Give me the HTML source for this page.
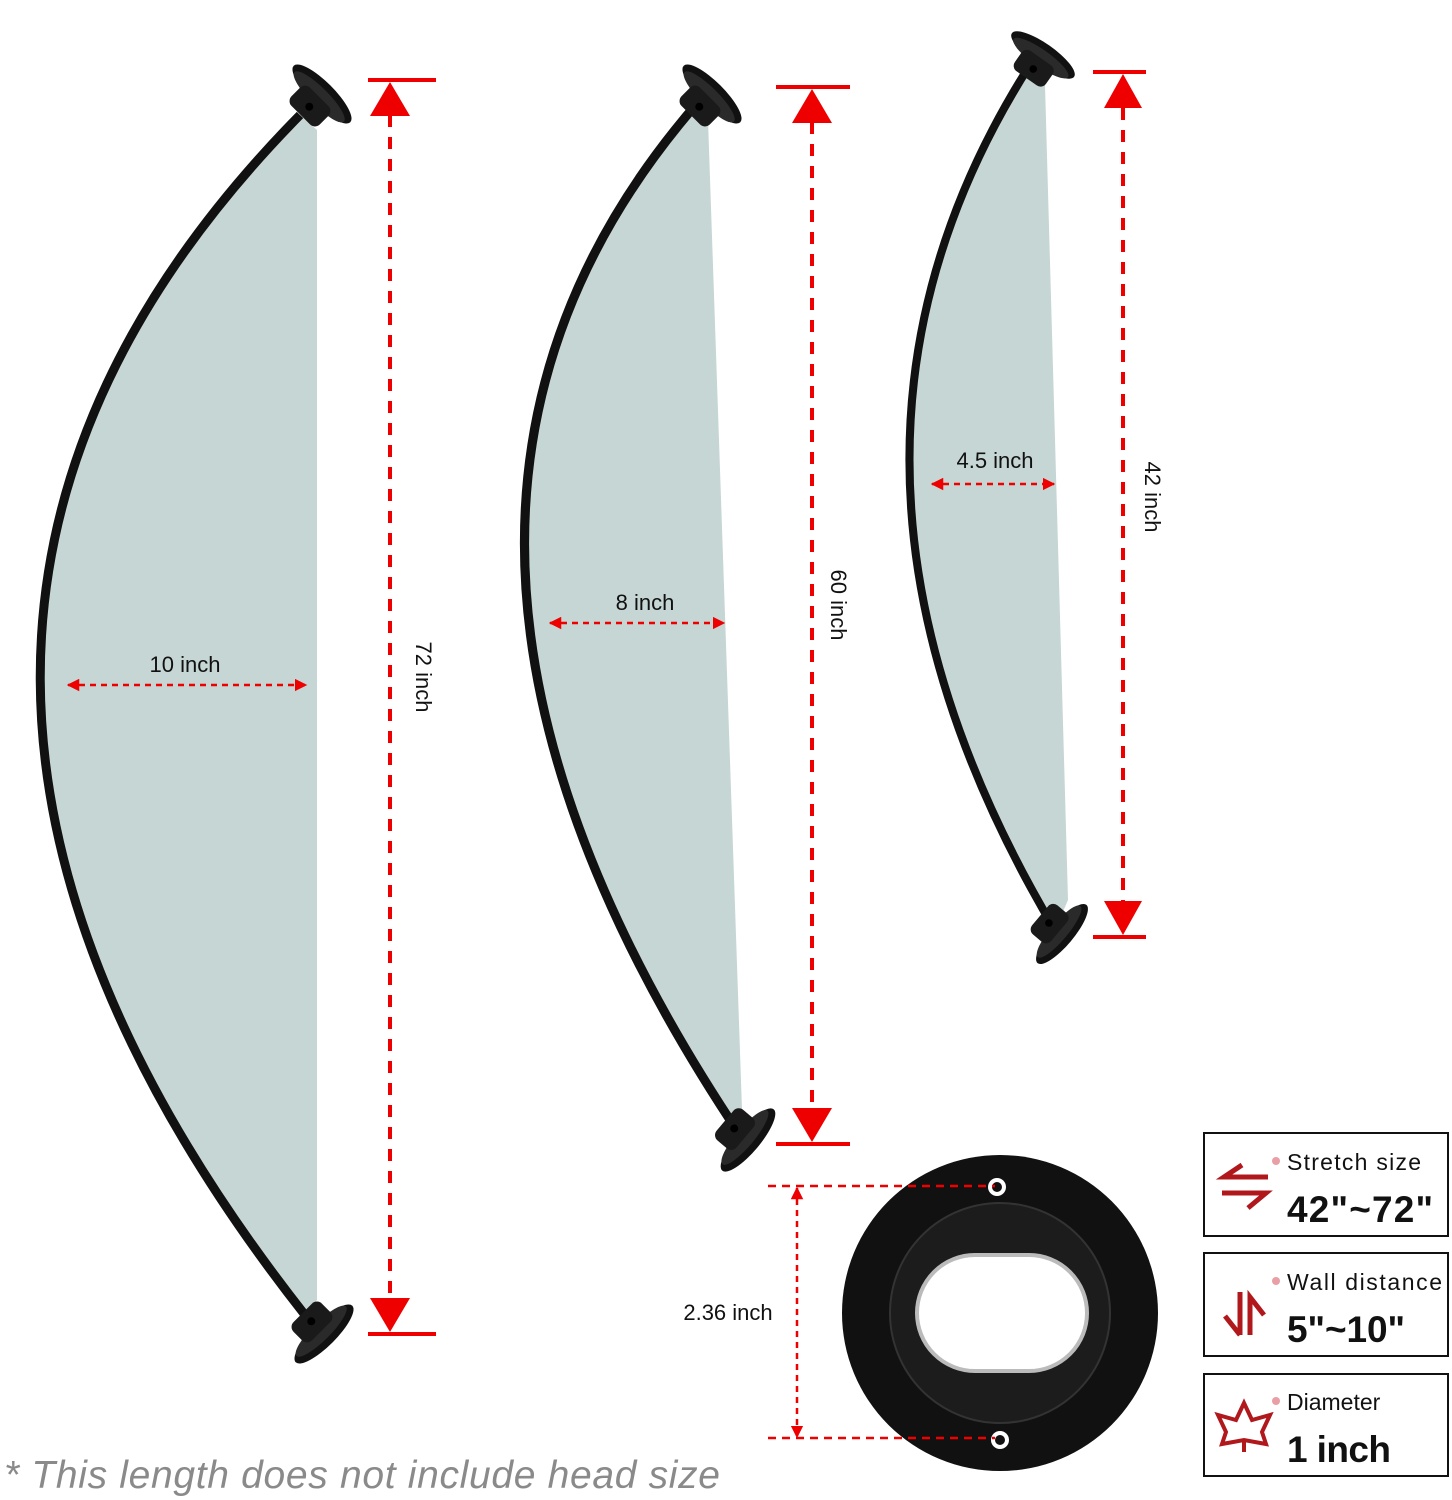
<!DOCTYPE html>
<html><head><style>
html,body{margin:0;padding:0;background:#fff}
svg{display:block}
text{font-family:"Liberation Sans",sans-serif}
</style></head><body>
<svg width="1452" height="1500" viewBox="0 0 1452 1500" xmlns="http://www.w3.org/2000/svg">
<defs>
<marker id="ah" viewBox="0 0 10 10" refX="9" refY="5" markerWidth="5" markerHeight="5" orient="auto-start-reverse"><path d="M0,0L10,5L0,10z" fill="#e00"/></marker>
<g id="fl">
 <ellipse cx="0" cy="0" rx="12" ry="40" fill="#111"/>
 <ellipse cx="-4" cy="0" rx="9" ry="35" fill="#2a2a2a"/>
 <rect x="-30" y="-20" width="26" height="40" rx="7" fill="#1a1a1a"/>
 <circle cx="-18" cy="0" r="4" fill="#000"/>
</g>
</defs>
<path d="M300,115 Q-222,645 305,1315 L317,1300 L317,130 Z" fill="#c6d6d4"/>
<path d="M700,100 Q330,522 740,1135 L742,1110 L708,120 Z" fill="#c6d6d4"/>
<path d="M1030,65 Q777,462 1055,930 L1068,900 L1045,85 Z" fill="#c6d6d4"/>
<path d="M300,115 Q-222,645 305,1315" fill="none" stroke="#111" stroke-width="9"/>
<path d="M700,100 Q330,522 740,1135" fill="none" stroke="#111" stroke-width="9"/>
<path d="M1030,65 Q777,462 1055,930" fill="none" stroke="#111" stroke-width="8"/>
<use href="#fl" transform="translate(322,94) rotate(-45)"/>
<use href="#fl" transform="translate(324,1334) rotate(45)"/>
<use href="#fl" transform="translate(712,94) rotate(-45)"/>
<use href="#fl" transform="translate(748,1140) rotate(40)"/>
<use href="#fl" transform="translate(1043,55) rotate(-55) scale(0.95)"/>
<use href="#fl" transform="translate(1062,934) rotate(40) scale(0.95)"/>
<g stroke="#e00" stroke-width="4" fill="#e00">
 <line x1="368" y1="80" x2="436" y2="80"/><line x1="368" y1="1334" x2="436" y2="1334"/>
 <line x1="390" y1="115" x2="390" y2="1300" stroke-dasharray="12,10"/>
 <line x1="776" y1="87" x2="850" y2="87"/><line x1="776" y1="1144" x2="850" y2="1144"/>
 <line x1="812" y1="122" x2="812" y2="1110" stroke-dasharray="12,10"/>
 <line x1="1093" y1="72" x2="1146" y2="72"/><line x1="1093" y1="937" x2="1146" y2="937"/>
 <line x1="1123" y1="108" x2="1123" y2="902" stroke-dasharray="12,10"/>
</g>
<g fill="#e00">
 <path d="M390,82 L410,116 L370,116Z"/><path d="M390,1332 L410,1298 L370,1298Z"/>
 <path d="M812,89 L832,123 L792,123Z"/><path d="M812,1142 L832,1108 L792,1108Z"/>
 <path d="M1123,74 L1142,108 L1104,108Z"/><path d="M1123,935 L1142,901 L1104,901Z"/>
</g>
<g font-size="22" fill="#111">
 <text transform="translate(416,677) rotate(90)" text-anchor="middle">72 inch</text>
 <text transform="translate(831,605) rotate(90)" text-anchor="middle">60 inch</text>
 <text transform="translate(1145,497) rotate(90)" text-anchor="middle">42 inch</text>
 <text x="185" y="672" text-anchor="middle">10 inch</text>
 <text x="645" y="610" text-anchor="middle">8 inch</text>
 <text x="995" y="468" text-anchor="middle">4.5 inch</text>
 <text x="728" y="1320" text-anchor="middle">2.36 inch</text>
</g>
<g stroke="#e00" stroke-width="2.5" stroke-dasharray="6,5" marker-start="url(#ah)" marker-end="url(#ah)">
 <line x1="68" y1="685" x2="306" y2="685"/>
 <line x1="550" y1="623" x2="724" y2="623"/>
 <line x1="932" y1="484" x2="1054" y2="484"/>
 <line x1="797" y1="1188" x2="797" y2="1437"/>
</g>
<circle cx="1000" cy="1313" r="158" fill="#111"/>
<circle cx="1000" cy="1313" r="110" fill="#1c1c1c" stroke="#333" stroke-width="2"/>
<rect x="917" y="1255" width="170" height="116" rx="58" fill="#fff" stroke="#bbb" stroke-width="4"/>
<circle cx="997" cy="1187" r="9" fill="#fff"/><circle cx="997" cy="1187" r="5" fill="#111"/>
<circle cx="1000" cy="1440" r="9" fill="#fff"/><circle cx="1000" cy="1440" r="5" fill="#111"/>
<g stroke="#e00" stroke-width="2.5" stroke-dasharray="8,6">
 <line x1="768" y1="1186" x2="995" y2="1186"/>
 <line x1="768" y1="1438" x2="995" y2="1438"/>
</g>
<g fill="none" stroke="#111" stroke-width="2">
 <rect x="1204" y="1133" width="244" height="103"/>
 <rect x="1204" y="1253" width="244" height="103"/>
 <rect x="1204" y="1374" width="244" height="102"/>
</g>
<g fill="#e8a0a6"><circle cx="1276" cy="1161" r="4"/><circle cx="1276" cy="1281" r="4"/><circle cx="1276" cy="1401" r="4"/></g>
<g fill="#111">
 <text x="1287" y="1170" font-size="23" textLength="134">Stretch size</text>
 <text x="1287" y="1222" font-size="37" font-weight="bold" textLength="146">42"~72"</text>
 <text x="1287" y="1290" font-size="23" textLength="155">Wall distance</text>
 <text x="1287" y="1342" font-size="37" font-weight="bold" textLength="118">5"~10"</text>
 <text x="1287" y="1410" font-size="23">Diameter</text>
 <text x="1287" y="1462" font-size="37" font-weight="bold" textLength="104">1 inch</text>
</g>
<g fill="none" stroke="#b0181c" stroke-width="5">
 <path d="M1268,1177 H1224 L1242,1165"/>
 <path d="M1222,1193 H1266 L1248,1208"/>
 <path d="M1240,1335 V1292"/><path d="M1240,1335 L1225,1316"/>
 <path d="M1250,1335 V1297 L1264,1315"/>
</g>
<path d="M1244,1403 L1252,1420 L1270,1415 L1262,1432 L1266,1444 L1244,1440 L1222,1444 L1226,1432 L1218,1415 L1236,1420 Z M1244,1440 V1452" fill="none" stroke="#b0181c" stroke-width="4"/>
<text x="4" y="1488" font-size="39" font-style="italic" fill="#8a8a8a" textLength="716">* This length does not include head size</text>
</svg>
</body></html>
